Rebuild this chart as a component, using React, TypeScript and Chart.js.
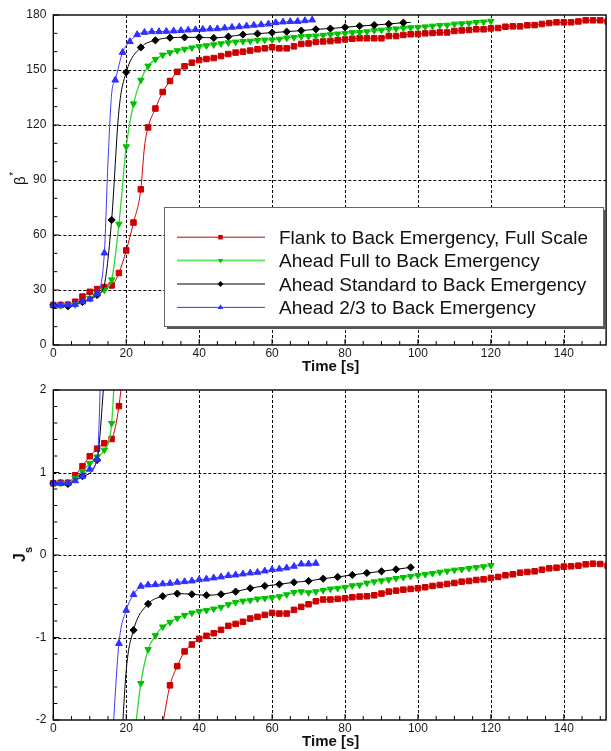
import React, { useEffect, useRef } from "react";
import { Chart, registerables } from "chart.js";

Chart.register(...registerables);

const FONT = '"Liberation Sans", Arial, Helvetica, sans-serif';

// ---------- sampling grids (seconds) ----------
const steps = (from: number, to: number, step: number): number[] => {
  const out: number[] = [];
  for (let t = from; t <= to + 1e-9; t += step) out.push(t);
  return out;
};

// ---------- β* panel ----------
const redBetaTime = steps(0, 152, 2);
const redBeta = [
  21.8, 21.8, 22.0, 23.6, 26.4, 29.0, 30.5, 31.6, 32.5, 39.3,
  51.6, 66.8, 84.9, 118.7, 129.0, 138.0, 144.0, 149.0, 152.0, 154.0,
  155.4, 156.0, 156.5, 157.6, 158.7, 159.5, 160.0, 160.6, 161.3, 161.8,
  162.4, 161.8, 161.8, 162.9, 164.2, 164.5, 165.3, 165.6, 165.8, 166.2,
  166.7, 167.0, 167.3, 167.3, 167.3, 167.3, 168.5, 168.5, 169.1, 169.5,
  169.6, 170.0, 170.2, 170.5, 170.5, 171.3, 171.6, 171.8, 172.2, 172.2,
  172.7, 172.9, 173.6, 173.8, 173.8, 174.4, 174.5, 175.1, 175.6, 176.0,
  176.0, 176.0, 176.5, 177.1, 177.1, 177.1, 176.5,
];
const redBetaExtra: [number, number | null][] = [[25, 108]];

const greenBetaTime = steps(0, 120, 2);
const greenBeta = [
  21.8, 21.5, 21.5, 22.0, 23.5, 25.5, 27.5, 30.0, 35.6, 66.0,
  108.2, 131.6, 144.5, 152.2, 155.8, 158.2, 159.5, 160.6, 161.4, 162.1,
  162.8, 163.3, 163.8, 164.4, 164.9, 165.3, 165.6, 165.8, 166.2, 166.4,
  166.5, 166.9, 167.5, 167.8, 168.3, 168.3, 168.6, 169.0, 169.3, 169.7,
  170.0, 170.4, 170.5, 170.9, 171.5, 171.8, 172.2, 172.5, 172.9, 173.1,
  173.3, 173.6, 174.0, 174.4, 174.5, 175.1, 175.3, 175.6, 176.0, 176.2,
  176.7,
];
const greenBetaExtra: [number, number | null][] = [];

const blackBetaTime = steps(0, 96, 4);
const blackBeta = [
  21.8, 21.2, 23.5, 27.3, 68.2, 148.8, 162.3, 166.2, 167.6, 167.8,
  167.8, 167.5, 168.2, 169.3, 169.8, 170.4, 170.9, 171.5, 172.2, 172.6,
  173.3, 174.0, 174.5, 175.1, 175.8,
];
const blackBetaExtra: [number, number | null][] = [[14, 33], [18, 128], [98, 176.0]];

const blueBetaTime = [...steps(0, 14, 2), ...steps(17, 71, 2)];
const blueBeta = [
  21.8, 21.8, 21.8, 22.2, 23.5, 25.0, 27.8, 50.2,
  144.5, 159.6, 165.5, 169.3, 170.5, 170.9, 170.9, 171.1, 171.3, 171.5,
  171.8, 172.0, 172.2, 172.4, 172.5, 172.9, 173.3, 173.6, 174.0, 174.4,
  174.7, 175.1, 175.8, 176.2, 176.4, 176.5, 176.9, 177.3,
];
const blueBetaExtra: [number, number | null][] = [[15, 100], [16, 137]];

// ---------- J_s panel (null = curve outside the frame) ----------
const redJsTime = steps(0, 152, 2);
const redJs = [
  0.87, 0.876, 0.876, 0.967, 1.076, 1.197, 1.289, 1.354, 1.406, 1.805,
  2.65, null, null, null, null, -2.05, -1.58, -1.347, -1.169, -1.085,
  -1.016, -0.98, -0.948, -0.907, -0.859, -0.835, -0.81, -0.77, -0.75, -0.726,
  -0.702, -0.71, -0.71, -0.665, -0.629, -0.597, -0.561, -0.54, -0.54, -0.532,
  -0.524, -0.512, -0.504, -0.5, -0.488, -0.468, -0.444, -0.432, -0.42, -0.411,
  -0.403, -0.391, -0.375, -0.363, -0.351, -0.339, -0.323, -0.315, -0.303, -0.295,
  -0.278, -0.266, -0.246, -0.234, -0.214, -0.206, -0.198, -0.178, -0.162, -0.154,
  -0.141, -0.137, -0.129, -0.113, -0.105, -0.109, -0.129,
];
const redJsExtra: [number, number | null][] = [];

const greenJsTime = steps(0, 120, 2);
const greenJs = [
  0.87, 0.87, 0.87, 0.93, 1.01, 1.11, 1.19, 1.273, 1.596, 3.4,
  null, -2.3, -1.556, -1.145, -0.976, -0.871, -0.815, -0.766, -0.73, -0.702,
  -0.682, -0.67, -0.653, -0.633, -0.601, -0.573, -0.557, -0.549, -0.532, -0.524,
  -0.516, -0.504, -0.48, -0.452, -0.444, -0.456, -0.444, -0.428, -0.411, -0.403,
  -0.391, -0.371, -0.363, -0.339, -0.323, -0.311, -0.299, -0.283, -0.271, -0.258,
  -0.246, -0.234, -0.222, -0.206, -0.194, -0.182, -0.174, -0.162, -0.15, -0.141,
  -0.125,
];
const greenJsExtra: [number, number | null][] = [];

const blackJsTime = [...steps(0, 12, 4), ...steps(22, 98, 4)];
const blackJs = [
  0.87, 0.862, 0.955, 1.152,
  -0.911, -0.593, -0.5, -0.468, -0.476, -0.488, -0.476, -0.444, -0.403, -0.375,
  -0.355, -0.331, -0.315, -0.287, -0.266, -0.242, -0.218, -0.198, -0.174, -0.15,
];
const blackJsExtra: [number, number | null][] = [[14, 2.15], [16, null], [18, -2.9], [20, -1.4]];

const blueJsTime = [...steps(0, 12, 2), ...steps(18, 72, 2)];
const blueJs = [
  0.87, 0.87, 0.87, 0.9, 0.955, 1.04, 1.16,
  -1.073, -0.67, -0.48, -0.379, -0.363, -0.359, -0.35, -0.343, -0.331, -0.323,
  -0.315, -0.299, -0.291, -0.278, -0.266, -0.25, -0.242, -0.23, -0.218, -0.21,
  -0.194, -0.178, -0.17, -0.157, -0.137, -0.109, -0.109, -0.101,
];
const blueJsExtra: [number, number | null][] = [[14, 4.0], [15, null], [16, -2.4]];

// ---------- axis ticks ----------
const timeTicks = [0, 20, 40, 60, 80, 100, 120, 140];
const betaTicks = [0, 30, 60, 90, 120, 150, 180];
const jsTicks = [-2, -1, 0, 1, 2];

const seriesLabels = [
  "Flank to Back Emergency, Full Scale",
  "Ahead Full to Back Emergency",
  "Ahead Standard to Back Emergency",
  "Ahead 2/3 to Back Emergency",
];

// ---------- styles ----------
type Shape = "rect" | "rectRot" | "triangle";
interface Style { line: string; mark: string; shape: Shape; rot: number; r: number; lw: number; order: number }
const STYLES: Style[] = [
  { line: "#d00000", mark: "#cc0000", shape: "rect", rot: 0, r: 3.9, lw: 1, order: 4 },
  { line: "#33d633", mark: "#00c000", shape: "triangle", rot: 180, r: 3.7, lw: 1.3, order: 3 },
  { line: "#000000", mark: "#000000", shape: "rectRot", r: 3.6, rot: 0, lw: 1, order: 2 },
  { line: "#3a3aff", mark: "#2f2fff", shape: "triangle", rot: 0, r: 3.9, lw: 1, order: 1 },
];

interface Pt { x: number; y: number | null; m: boolean }

function buildPoints(times: number[], values: (number | null)[], extra: [number, number | null][]): Pt[] {
  const pts: Pt[] = times.map((t, i) => ({ x: t, y: values[i], m: true }));
  extra.forEach(([t, v]) => pts.push({ x: t, y: v, m: false }));
  return pts.sort((a, b) => a.x - b.x);
}

interface Panel {
  yMin: number;
  yMax: number;
  yTicks: number[];
  yMinorStep: number;
  xMax: number;
  xMinorStep: number;
  height: number;
  yTitle: (ctx: CanvasRenderingContext2D) => void;
  legend: boolean;
  series: Pt[][];
}

function drawMarker(ctx: CanvasRenderingContext2D, s: Style, x: number, y: number, r: number) {
  ctx.fillStyle = s.mark;
  ctx.beginPath();
  if (s.shape === "rect") {
    const h = r * Math.SQRT1_2;
    ctx.rect(x - h, y - h, 2 * h, 2 * h);
  } else if (s.shape === "rectRot") {
    ctx.moveTo(x - r, y);
    ctx.lineTo(x, y - r);
    ctx.lineTo(x + r, y);
    ctx.lineTo(x, y + r);
  } else {
    let a = (s.rot * Math.PI) / 180;
    for (let k = 0; k < 3; k++) {
      const px = x + Math.sin(a) * r;
      const py = y - Math.cos(a) * r;
      if (k === 0) ctx.moveTo(px, py);
      else ctx.lineTo(px, py);
      a += (2 * Math.PI) / 3;
    }
  }
  ctx.closePath();
  ctx.fill();
}

function drawBetaTitle(ctx: CanvasRenderingContext2D) {
  ctx.save();
  ctx.translate(25, 185);
  ctx.rotate(-Math.PI / 2);
  ctx.fillStyle = "#111";
  ctx.textAlign = "left";
  ctx.textBaseline = "alphabetic";
  ctx.font = `15px ${FONT}`;
  ctx.fillText("β", 0, 0);
  const w = ctx.measureText("β").width;
  ctx.font = `10px ${FONT}`;
  ctx.fillText("*", w + 0.5, -8);
  ctx.restore();
}

function drawJsTitle(ctx: CanvasRenderingContext2D) {
  ctx.save();
  ctx.translate(25, 562 - 375);
  ctx.rotate(-Math.PI / 2);
  ctx.fillStyle = "#111";
  ctx.textAlign = "left";
  ctx.textBaseline = "alphabetic";
  ctx.font = `bold 16px ${FONT}`;
  ctx.fillText("J", 0, 0);
  const w = ctx.measureText("J").width;
  ctx.font = `bold 11px ${FONT}`;
  ctx.fillText("s", w, 6.5);
  ctx.restore();
}

function axesPlugin(p: Panel) {
  return {
    id: "axesFrame",
    beforeDatasetsDraw(chart: any) {
      const { ctx, chartArea: a, scales } = chart;
      const xs = scales.x;
      const ys = scales.y;
      ctx.save();
      ctx.strokeStyle = "#000";
      ctx.lineWidth = 1;
      ctx.setLineDash([3, 2]);
      timeTicks.forEach((v) => {
        if (v <= 0 || v >= p.xMax) return;
        const px = Math.round(xs.getPixelForValue(v)) + 0.5;
        ctx.beginPath();
        ctx.moveTo(px, a.top);
        ctx.lineTo(px, a.bottom);
        ctx.stroke();
      });
      p.yTicks.forEach((v) => {
        if (v <= p.yMin || v >= p.yMax) return;
        const py = Math.round(ys.getPixelForValue(v)) + 0.5;
        ctx.beginPath();
        ctx.moveTo(a.left, py);
        ctx.lineTo(a.right, py);
        ctx.stroke();
      });
      ctx.restore();
    },
    afterDatasetsDraw(chart: any) {
      const { ctx, chartArea: a, scales } = chart;
      const xs = scales.x;
      const ys = scales.y;
      ctx.save();
      ctx.setLineDash([]);
      ctx.strokeStyle = "#000";

      // inward tick marks
      ctx.lineWidth = 1;
      ctx.beginPath();
      for (let v = p.yMin; v <= p.yMax + 1e-9; v += p.yMinorStep) {
        const major = p.yTicks.some((t) => Math.abs(t - v) < 1e-6);
        const py = ys.getPixelForValue(v);
        ctx.moveTo(a.left, py);
        ctx.lineTo(a.left + (major ? 6 : 4), py);
      }
      for (let v = 0; v <= p.xMax + 1e-9; v += p.xMinorStep) {
        const major = timeTicks.includes(v);
        const px = xs.getPixelForValue(v);
        ctx.moveTo(px, a.bottom);
        ctx.lineTo(px, a.bottom - (major ? 6 : 4));
      }
      ctx.stroke();

      // frame
      ctx.lineWidth = 1.4;
      ctx.strokeRect(a.left, a.top, a.right - a.left, a.bottom - a.top);

      // tick labels
      ctx.fillStyle = "#1a1a1a";
      ctx.font = `12px ${FONT}`;
      ctx.textAlign = "right";
      ctx.textBaseline = "middle";
      p.yTicks.forEach((v) => {
        ctx.fillText(String(v), a.left - 7, ys.getPixelForValue(v));
      });
      ctx.textAlign = "center";
      timeTicks.forEach((v) => {
        ctx.fillText(String(v), xs.getPixelForValue(v), a.bottom + 8.5);
      });

      // axis titles
      ctx.font = `bold 15px ${FONT}`;
      ctx.textBaseline = "alphabetic";
      ctx.fillStyle = "#111";
      ctx.fillText("Time [s]", (a.left + a.right) / 2 + 1, a.bottom + 26);
      p.yTitle(ctx);

      // legend
      if (p.legend) {
        const bx = 164.5, by = 207.5, bw = 439, bh = 119;
        ctx.fillStyle = "#555";
        ctx.fillRect(bx + 2.5, by + 2.5, bw, bh);
        ctx.fillStyle = "#fff";
        ctx.fillRect(bx, by, bw, bh);
        ctx.lineWidth = 1;
        ctx.strokeStyle = "#666";
        ctx.strokeRect(bx, by, bw, bh);
        const rows = [237.2, 260.6, 284.0, 307.4];
        seriesLabels.forEach((label, i) => {
          const s = STYLES[i];
          const y = rows[i];
          ctx.strokeStyle = i === 1 ? "#66e866" : s.line;
          ctx.lineWidth = i === 1 ? 2 : 1;
          ctx.beginPath();
          ctx.moveTo(177, y);
          ctx.lineTo(265, y);
          ctx.stroke();
          drawMarker(ctx, s, 220.5, y, s.r - 0.7);
          ctx.fillStyle = "#111";
          ctx.font = `19px ${FONT}`;
          ctx.textAlign = "left";
          ctx.fillText(label, 279, y + 6.6);
        });
      }
      ctx.restore();
    },
  };
}

function makeConfig(p: Panel): any {
  const datasets = p.series.map((pts, i) => {
    const s = STYLES[i];
    return {
      label: seriesLabels[i],
      data: pts,
      order: s.order,
      borderColor: s.line,
      borderWidth: s.lw,
      cubicInterpolationMode: "monotone",
      spanGaps: false,
      pointStyle: s.shape,
      pointRotation: s.rot,
      pointBackgroundColor: s.mark,
      pointBorderColor: s.mark,
      pointBorderWidth: 1,
      pointRadius: (c: any) => {
        const pt = c.raw as Pt;
        if (!pt || !pt.m || pt.y == null) return 0;
        if (pt.y < p.yMin - 1e-6 || pt.y > p.yMax + 1e-6) return 0;
        return s.r;
      },
      pointHoverRadius: 0,
      clip: { left: 8, top: 0, right: 0, bottom: 0 },
    };
  });
  return {
    type: "line",
    data: { datasets },
    options: {
      animation: false,
      responsive: false,
      events: [],
      layout: { padding: { left: 53.3, right: 4.3, top: 15, bottom: p.height - 345 } },
      scales: {
        x: { type: "linear", display: false, min: 0, max: p.xMax },
        y: { type: "linear", display: false, min: p.yMin, max: p.yMax },
      },
      plugins: { legend: { display: false }, tooltip: { enabled: false }, title: { display: false } },
    },
    plugins: [axesPlugin(p)],
  };
}

const TOP_PANEL: Panel = {
  yMin: 0,
  yMax: 180,
  yTicks: betaTicks,
  yMinorStep: 10,
  xMax: 151.6,
  xMinorStep: 5,
  height: 375,
  yTitle: drawBetaTitle,
  legend: true,
  series: [
    buildPoints(redBetaTime, redBeta, redBetaExtra),
    buildPoints(greenBetaTime, greenBeta, greenBetaExtra),
    buildPoints(blackBetaTime, blackBeta, blackBetaExtra),
    buildPoints(blueBetaTime, blueBeta, blueBetaExtra),
  ],
};

const BOTTOM_PANEL: Panel = {
  yMin: -2,
  yMax: 2,
  yTicks: jsTicks,
  yMinorStep: 0.2,
  xMax: 151.6,
  xMinorStep: 5,
  height: 376,
  yTitle: drawJsTitle,
  legend: false,
  series: [
    buildPoints(redJsTime, redJs, redJsExtra),
    buildPoints(greenJsTime, greenJs, greenJsExtra),
    buildPoints(blackJsTime, blackJs, blackJsExtra),
    buildPoints(blueJsTime, blueJs, blueJsExtra),
  ],
};

export default function App() {
  const topRef = useRef<HTMLCanvasElement>(null);
  const botRef = useRef<HTMLCanvasElement>(null);

  useEffect(() => {
    const top = new Chart(topRef.current as HTMLCanvasElement, makeConfig(TOP_PANEL));
    const bottom = new Chart(botRef.current as HTMLCanvasElement, makeConfig(BOTTOM_PANEL));
    return () => {
      top.destroy();
      bottom.destroy();
    };
  }, []);

  return (
    <div style={{ position: "absolute", left: 0, top: 0, width: 611, height: 751, background: "#fff" }}>
      <canvas
        ref={topRef}
        width={611}
        height={375}
        style={{ position: "absolute", left: 0, top: 0, display: "block", width: 611, height: 375 }}
      />
      <canvas
        ref={botRef}
        width={611}
        height={376}
        style={{ position: "absolute", left: 0, top: 375, display: "block", width: 611, height: 376 }}
      />
    </div>
  );
}
